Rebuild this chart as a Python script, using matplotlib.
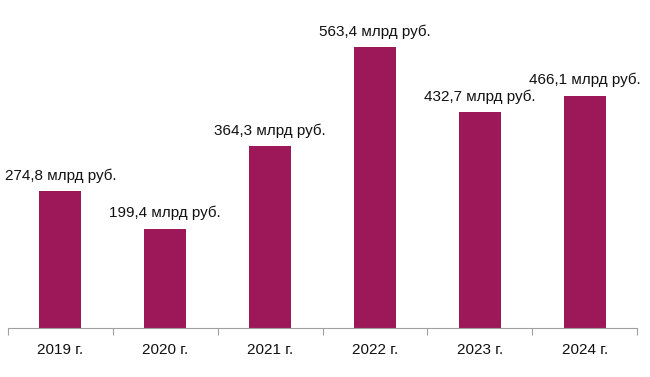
import matplotlib
matplotlib.use("Agg")
import matplotlib.pyplot as plt

categories = ["2019 г.", "2020 г.", "2021 г.", "2022 г.", "2023 г.", "2024 г."]
values = [274.8, 199.4, 364.3, 563.4, 432.7, 466.1]
labels = ["274,8 млрд руб.", "199,4 млрд руб.", "364,3 млрд руб.",
          "563,4 млрд руб.", "432,7 млрд руб.", "466,1 млрд руб."]

plt.rcParams['font.family'] = ['Liberation Sans', 'DejaVu Sans']

fig = plt.figure(figsize=(6.5, 3.77), dpi=100)
ax = fig.add_axes([8/650, 49/377, 629/650, (328-20)/377])

x = list(range(len(categories)))
ax.bar(x, values, width=0.4, color='#9C1858')
for xi, v, lab in zip(x, values, labels):
    ax.annotate(lab, (xi, v), xytext=(0, 6), textcoords='offset points',
                ha='center', va='bottom', fontsize=11, color='#111111')

ax.set_xlim(-0.5, len(categories) - 0.5)
ax.set_ylim(0, 308 / (281 / 563.4))
for s in ['top', 'right', 'left']:
    ax.spines[s].set_visible(False)
ax.spines['bottom'].set_color('#a0a0a0')
ax.set_yticks([])
ax.set_xticks([i - 0.5 for i in range(len(categories) + 1)], minor=False)
ax.set_xticklabels([])
ax.set_xticks(x, minor=True)
ax.set_xticklabels(categories, minor=True, fontsize=11, color='#111111')
ax.tick_params(axis='x', which='major', length=5, color='#a0a0a0', direction='out')
ax.tick_params(axis='x', which='minor', length=0, pad=11)

fig.savefig("out.png", dpi=100)
